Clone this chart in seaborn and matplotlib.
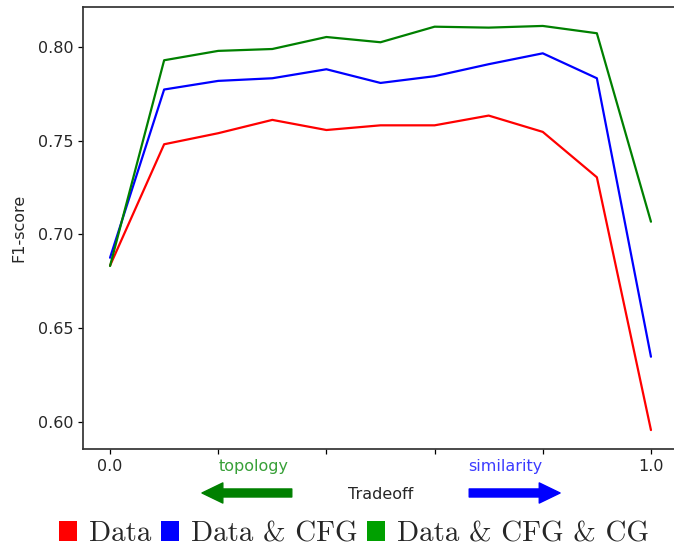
import pandas as pd
import matplotlib
matplotlib.use("Agg")
import matplotlib.pyplot as plt
from matplotlib.patches import Patch
import seaborn as sns

# tradeoff values on the x axis
tradeoff = [0.0, 0.1, 0.2, 0.3, 0.4, 0.5, 0.6, 0.7, 0.8, 0.9, 1.0]

# F1-score for each feature set
f1_data = [0.6834, 0.7481, 0.7540, 0.7611, 0.7557, 0.7582, 0.7582, 0.7634, 0.7547, 0.7305, 0.5957]
f1_data_cfg = [0.6876, 0.7773, 0.7819, 0.7833, 0.7881, 0.7808, 0.7844, 0.7908, 0.7966, 0.7833, 0.6348]
f1_data_cfg_cg = [0.6832, 0.7929, 0.7979, 0.7989, 0.8053, 0.8025, 0.8108, 0.8103, 0.8112, 0.8073, 0.7068]

series_names = ["Data", "Data & CFG", "Data & CFG & CG"]

tick_values = [0.0, 0.2, 0.4, 0.6, 0.8, 1.0]
tick_labels = ["0.0", "topology", "", "", "similarity", "1.0"]
y_ticks = [0.60, 0.65, 0.70, 0.75, 0.80]


def charts_setup():
    sns.set_theme(style="ticks")
    plt.rcParams["font.family"] = ["DejaVu Sans"]


def main():
    charts_setup()

    # long form table for seaborn
    data = pd.DataFrame(
        {
            "tradeoff": tradeoff * 3,
            "f1": f1_data + f1_data_cfg + f1_data_cfg_cg,
            "features": [name for name in series_names for _ in tradeoff],
        }
    )
    line_colors = {"Data": "red", "Data & CFG": "blue", "Data & CFG & CG": "green"}

    fig = plt.figure(figsize=(6.74, 5.52), dpi=100)
    ax = fig.add_axes([83 / 674, 1 - 449 / 552, (678 - 83) / 674, 442 / 552])

    sns.lineplot(
        data=data, x="tradeoff", y="f1", hue="features",
        palette=line_colors, linewidth=1.6, legend=False, ax=ax,
    )

    ax.set_xlim(-0.05, 1.05)
    ax.set_ylim(0.5856, 0.8213)
    ax.set_yticks(y_ticks)
    ax.set_yticklabels([f"{v:.2f}" for v in y_ticks])
    ax.set_xticks(tick_values)
    ax.set_xticklabels(tick_labels)
    ax.tick_params(labelsize=11.5, colors="black", labelcolor="#262626",
                   length=3.5, width=0.9)
    tick_texts = ax.get_xticklabels()
    tick_texts[1].set_color("#38a038")
    tick_texts[1].set_horizontalalignment("left")
    tick_texts[4].set_color("#3c3cff")
    tick_texts[4].set_horizontalalignment("right")

    ax.set_xlabel("Tradeoff", fontsize=11.5, color="#262626", labelpad=9.5)
    ax.set_ylabel("F1-score", fontsize=11.5, color="#262626", labelpad=8)
    for spine in ax.spines.values():
        spine.set_color("#333333")

    # direction arrows below the axis
    arrow_style = "simple,head_length=15,head_width=14.5,tail_width=5.8"
    ax.annotate(
        "", xy=(0.170, -0.0995), xytext=(0.336, -0.0995),
        xycoords=("data", "axes fraction"), textcoords=("data", "axes fraction"),
        arrowprops=dict(arrowstyle=arrow_style, color="green", mutation_scale=1,
                        shrinkA=0, shrinkB=0),
        annotation_clip=False,
    )
    ax.annotate(
        "", xy=(0.832, -0.0995), xytext=(0.664, -0.0995),
        xycoords=("data", "axes fraction"), textcoords=("data", "axes fraction"),
        arrowprops=dict(arrowstyle=arrow_style, color="blue", mutation_scale=1,
                        shrinkA=0, shrinkB=0),
        annotation_clip=False,
    )

    handles = [
        Patch(facecolor=c, edgecolor="none")
        for c in ["#ff0000", "#0000ff", "#00a000"]
    ]
    fig.legend(
        handles, series_names, loc="center", bbox_to_anchor=(354 / 674, 1 - 534 / 552),
        ncol=3, frameon=False, prop=dict(family="cmr10", size=20.8),
        handlelength=0.62, handleheight=0.72,
        handletextpad=0.4, columnspacing=0.35, borderpad=0, borderaxespad=0,
    )

    fig.savefig("out.png", dpi=100, facecolor="white")


if __name__ == "__main__":
    main()
